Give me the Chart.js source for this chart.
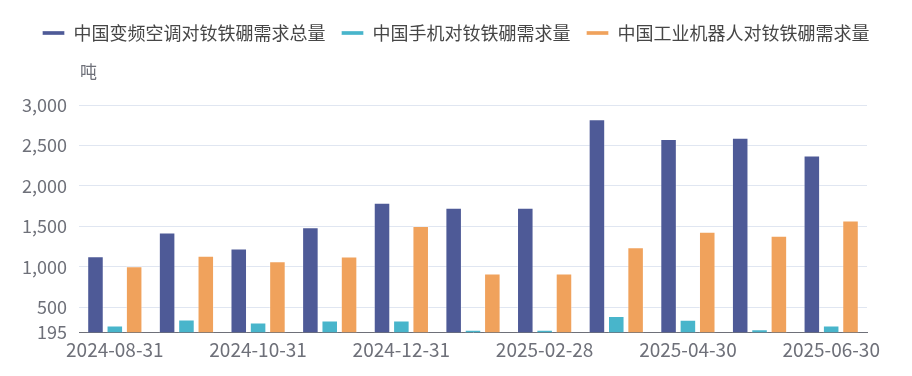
<!DOCTYPE html>
<html>
<head>
<meta charset="utf-8">
<script src="https://cdn.jsdelivr.net/npm/chart.js@4.4.1/dist/chart.umd.min.js"></script>
<style>
html,body{margin:0;padding:0;background:#fff;}
#wrap{width:912px;height:376px;position:relative;}
</style>
</head>
<body>
<div id="wrap"><canvas id="c" width="912" height="376"></canvas></div>
<script>
const categories = ["2024-08-31","2024-09-30","2024-10-31","2024-11-30","2024-12-31","2025-01-31","2025-02-28","2025-03-31","2025-04-30","2025-05-31","2025-06-30"];
const seriesNames = ["中国变频空调对钕铁硼需求总量","中国手机对钕铁硼需求量","中国工业机器人对钕铁硼需求量"];
const airConditioner = [1134, 1427, 1229, 1492, 1793, 1731, 1731, 2823, 2580, 2597, 2378];
const mobilePhone = [277, 352, 315, 340, 340, 224, 224, 396, 348, 232, 277];
const industrialRobot = [1010, 1138, 1072, 1130, 1505, 920, 920, 1245, 1435, 1386, 1575];
const yTicks = [195, 500, 1000, 1500, 2000, 2500, 3000];
const yUnit = "吨";

const colors = ["#4e5a97", "#48b5cb", "#f0a25c"];
const FONT = "'Noto Sans CJK SC', 'Noto Sans', sans-serif";

const layoutPlugin = {
  id: 'layoutTweaks',
  beforeInit(chart) {
    const lg = chart.legend;
    if (lg) {
      const origFit = lg.fit;
      lg.fit = function() { origFit.call(this); this.height = 97; };
    }
  },
  afterUpdate(chart) {
    const lg = chart.legend;
    if (lg) {
      lg.left = 0; lg.right = chart.width; lg.width = chart.width;
      lg.adjustHitBoxes();
    }
  },
  afterDraw(chart) {
    const ctx = chart.ctx;
    const area = chart.chartArea;
    ctx.save();
    ctx.font = "17px " + FONT;
    ctx.fillStyle = "#6e7079";
    ctx.textAlign = "left";
    ctx.textBaseline = "middle";
    ctx.fillText(yUnit, area.left + 1, 72);
    ctx.restore();
  }
};

const data = {
  labels: categories,
  datasets: [airConditioner, mobilePhone, industrialRobot].map((vals, i) => ({
    label: seriesNames[i],
    data: vals,
    backgroundColor: colors[i],
    borderColor: "rgba(255,255,255,0.35)",
    borderWidth: 1,
    categoryPercentage: 0.81,
    barPercentage: 0.855
  }))
};

new Chart(document.getElementById('c'), {
  type: 'bar',
  data,
  plugins: [layoutPlugin],
  options: {
    responsive: false,
    animation: false,
    layout: { padding: { left: 0, right: 45, top: 8, bottom: 9 } },
    plugins: {
      legend: {
        position: 'top',
        labels: {
          font: { family: FONT, size: 18 },
          color: "#464646",
          boxWidth: 22,
          boxHeight: 4,
          padding: 16
        }
      },
      tooltip: { enabled: false }
    },
    scales: {
      x: {
        grid: { display: false, drawTicks: false },
        border: { display: true, color: "#6e7079", width: 1 },
        ticks: {
          autoSkip: false,
          maxRotation: 0,
          padding: 6,
          color: "#6e7079",
          font: { family: FONT, size: 19 },
          callback: function(v, i) { return i % 2 === 0 ? this.getLabelForValue(v) : ''; }
        }
      },
      y: {
        min: 195,
        max: 3000,
        afterFit(s) { s.width = 79; },
        afterBuildTicks(s) { s.ticks = yTicks.map(v => ({ value: v })); },
        grid: {
          color: (c) => c.index === 0 ? "rgba(0,0,0,0)" : "#e0e6f1",
          drawTicks: false,
          lineWidth: 1
        },
        border: { display: false },
        ticks: {
          padding: 12,
          color: "#6e7079",
          font: { family: FONT, size: 18 },
          callback: (v) => v.toLocaleString('en-US')
        }
      }
    }
  }
});
</script>
</body>
</html>
